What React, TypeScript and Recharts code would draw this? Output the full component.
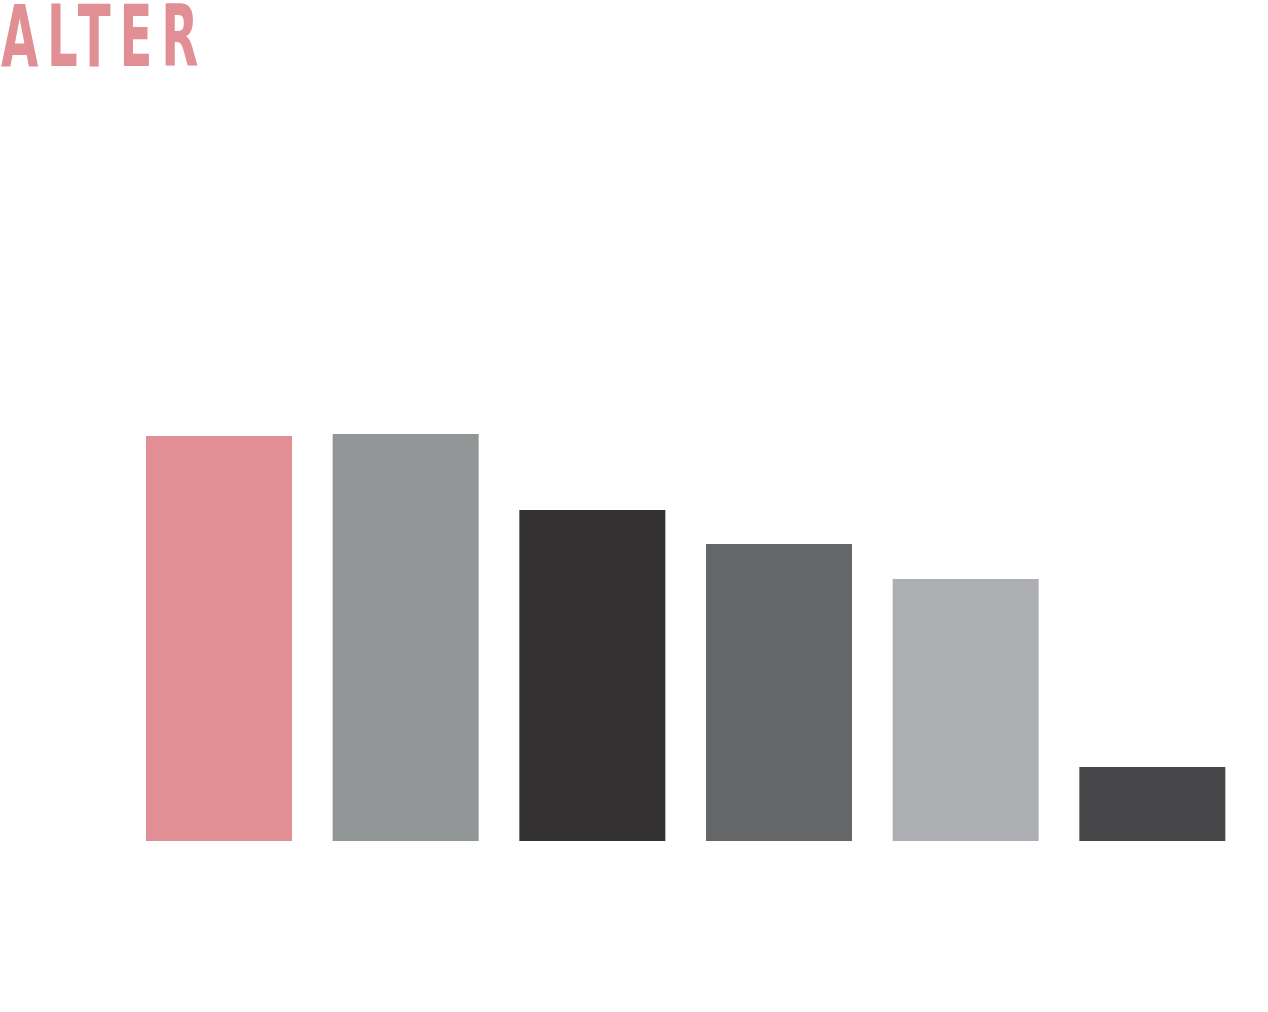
import { BarChart, Bar, Cell, XAxis, YAxis } from "recharts";

const categories = ["A", "B", "C", "D", "E", "F"];
const values = [405, 407, 331, 297, 262, 74];
const colors = ["#e18e94", "#939696", "#333132", "#656668", "#aeafb2", "#474749"];

const data = categories.map((name, i) => ({ name, value: values[i] }));

export default function App() {
  return (
    <div
      style={{
        position: "absolute",
        top: 0,
        left: 0,
        width: 1268,
        height: 1012,
        background: "#ffffff"
      }}
    >
      <div
        style={{
          position: "absolute",
          top: 5,
          left: 1,
          fontFamily: "'Liberation Sans Narrow', 'DejaVu Sans Condensed', sans-serif",
          fontWeight: 700,
          fontSize: 85,
          lineHeight: 0.75,
          letterSpacing: 14,
          color: "#e18e94",
          transform: "scaleX(0.63)",
          transformOrigin: "left top",
          whiteSpace: "nowrap"
        }}
      >
        ALTER
      </div>
      <BarChart
        width={1268}
        height={1012}
        data={data}
        margin={{ top: 391, right: 22, bottom: 171, left: 126 }}
      >
        <XAxis dataKey="name" hide />
        <YAxis hide domain={[0, 450]} />
        <Bar dataKey="value" barSize={146} isAnimationActive={false}>
          {data.map((d, i) => (
            <Cell key={d.name} fill={colors[i]} />
          ))}
        </Bar>
      </BarChart>
    </div>
  );
}
